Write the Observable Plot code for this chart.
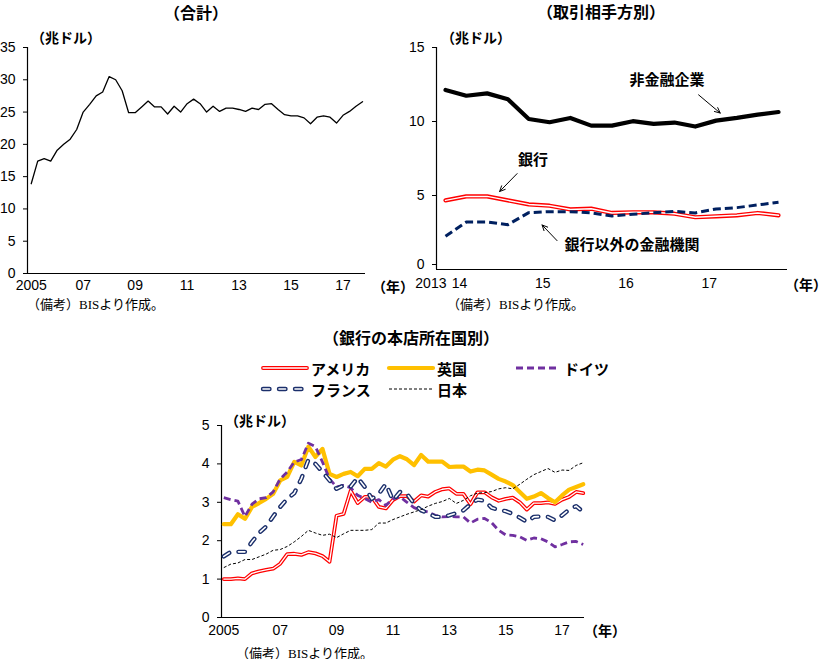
<!DOCTYPE html>
<html>
<head>
<meta charset="utf-8">
<script src="https://cdn.jsdelivr.net/npm/d3@7"></script>
<script src="https://cdn.jsdelivr.net/npm/@observablehq/plot@0.6"></script>
<style>
  html, body { margin: 0; padding: 0; background: #fff; }
  #chart { position: relative; width: 827px; height: 659px; overflow: hidden; background: #fff; color: #000; }
  .t { position: absolute; white-space: nowrap; line-height: 1; color: #000; }
</style>
</head>
<body>
<div id="chart"></div>
<script>
// ---- Data (trillion US dollars, quarterly) ----

// Total, 2005Q1–2017Q4
const totalStart = 2005;
const totalValues = [13.9, 17.4, 17.8, 17.4, 19.1, 20.0, 20.8, 22.3, 25.0, 26.2,
  27.5, 28.1, 30.5, 30.0, 28.3, 24.9, 24.9, 25.8, 26.7, 25.8,
  25.8, 24.7, 25.9, 25.0, 26.3, 27.0, 26.3, 25.0, 25.9, 25.1,
  25.6, 25.6, 25.4, 25.1, 25.6, 25.4, 26.2, 26.3, 25.4, 24.6,
  24.4, 24.4, 24.1, 23.2, 24.2, 24.4, 24.2, 23.3, 24.5, 25.1,
  25.9, 26.6];

// By counterparty, 2013Q4–2017Q4
const counterpartyStart = 2013.75;
const nonFinancialCorp = [12.13, 11.74, 11.90, 11.50, 10.17, 9.95, 10.24, 9.72, 9.72,
  10.02, 9.84, 9.93, 9.66, 10.06, 10.24, 10.46, 10.64];
const banks = [4.67, 4.94, 4.94, 4.67, 4.40, 4.31, 4.06, 4.11, 3.82,
  3.86, 3.86, 3.77, 3.53, 3.59, 3.66, 3.82, 3.66];
const nonBankFinancial = [2.25, 3.21, 3.21, 3.03, 3.84, 3.91, 3.91, 3.82, 3.62,
  3.73, 3.84, 3.93, 3.82, 4.09, 4.18, 4.36, 4.54];

// By bank nationality, 2005Q1–2017Q4
const nationalityStart = 2005;
const usa = [1.0, 1.0, 1.02, 1.0, 1.15, 1.2, 1.24, 1.27, 1.4, 1.65,
  1.66, 1.63, 1.7, 1.67, 1.6, 1.45, 2.65, 2.7, 3.3, 2.98,
  3.14, 3.14, 2.88, 2.84, 3.06, 3.16, 3.16, 3.02, 3.18, 3.15,
  3.27, 3.34, 3.36, 3.22, 3.22, 2.95, 3.26, 3.26, 3.13, 3.04,
  3.09, 3.12, 3.0, 2.81, 2.98, 2.98, 3.0, 2.96, 3.07, 3.14,
  3.27, 3.24];
const uk = [2.43, 2.43, 2.69, 2.57, 2.88, 2.98, 3.09, 3.22, 3.57, 3.66,
  4.05, 3.96, 4.45, 4.18, 4.39, 3.74, 3.66, 3.74, 3.79, 3.68,
  3.87, 3.87, 4.02, 3.93, 4.11, 4.2, 4.12, 3.97, 4.23, 4.06,
  4.06, 4.06, 3.92, 3.93, 3.93, 3.8, 3.85, 3.83, 3.72, 3.61,
  3.54, 3.45, 3.27, 3.09, 3.15, 3.24, 3.11, 3.0, 3.18, 3.33,
  3.4, 3.47];
const germany = [3.12, 3.07, 3.03, 2.63, 2.95, 3.09, 3.12, 3.27, 3.61, 3.79,
  4.05, 4.11, 4.54, 4.45, 4.05, 3.61, 3.4, 3.44, 3.38, 3.18,
  3.1, 3.0, 3.07, 2.92, 3.09, 3.14, 3.0, 2.86, 2.79, 2.75,
  2.66, 2.62, 2.63, 2.62, 2.62, 2.46, 2.56, 2.58, 2.47, 2.27,
  2.15, 2.14, 2.1, 2.01, 2.07, 2.05, 1.97, 1.84, 1.9, 1.97,
  1.98, 1.9];
const france = [1.59, 1.71, 1.71, 1.71, 1.97, 2.2, 2.37, 2.63, 2.88, 3.09,
  3.24, 3.61, 4.11, 4.0, 3.79, 3.57, 3.35, 3.44, 3.41, 3.64,
  3.4, 3.09, 3.22, 3.48, 3.05, 3.27, 3.22, 2.96, 2.79, 2.72,
  2.62, 2.62, 2.66, 2.72, 2.79, 2.95, 3.07, 3.04, 2.86, 2.8,
  2.77, 2.7, 2.6, 2.49, 2.62, 2.63, 2.62, 2.53, 2.66, 2.81,
  2.9, 2.75];
const japan = [1.3, 1.39, 1.42, 1.51, 1.51, 1.58, 1.65, 1.75, 1.77, 1.85,
  1.97, 2.11, 2.27, 2.2, 2.14, 2.17, 2.08, 2.18, 2.27, 2.27,
  2.27, 2.29, 2.46, 2.46, 2.55, 2.62, 2.69, 2.75, 2.81, 2.9,
  2.97, 3.02, 3.1, 2.97, 3.05, 3.17, 3.24, 3.25, 3.28, 3.35,
  3.38, 3.35, 3.47, 3.6, 3.72, 3.8, 3.88, 3.78, 3.84, 3.83,
  3.96, 4.03];

// Axis ticks and labels
const yTicksTotal = [0, 5, 10, 15, 20, 25, 30, 35];
const yTicksCounterparty = [5, 10, 15];
const yTicksCounterpartyBase = [0];
const yTicksNationality = [0, 1, 2, 3, 4, 5];
const xTicksLong = [2005, 2007, 2009, 2011, 2013, 2015, 2017];
const xLabelsLong = ["2005", "07", "09", "11", "13", "15", "17"];
const xTicksShort = [2013.75, 2014, 2015, 2016, 2017];
const xLabelsShort = ["2013", "14", "15", "16", "17"];

// Annotations on the counterparty panel
const counterpartyNotes = [
  {label: "非金融企業", year: 2016.41, value: 12.8},
  {label: "銀行", year: 2014.80, value: 7.39},
  {label: "銀行以外の金融機関", year: 2015.99, value: 1.62}
];
const counterpartyPointers = [
  {x1: 2016.79, y1: 11.8, x2: 2017.05, y2: 10.57},
  {x1: 2014.61, y1: 6.48, x2: 2014.40, y2: 5.27},
  {x1: 2015.09, y1: 1.95, x2: 2014.91, y2: 3.01}
];

// ---- Helpers ----
const JP = '"Noto Sans CJK JP", "Noto Sans", sans-serif';
const NUM = '"Liberation Sans", Arial, sans-serif';
const SERIF = '"Liberation Serif", "Noto Sans CJK JP", serif';
const root = document.getElementById("chart");

const rows = (values, start) => values.map((v, i) => ({year: start + i / 4, value: v}));
const plain = d => String(d);

function addText(str, x, y, {size = 14, weight = "bold", family = JP, anchor = "start"} = {}) {
  const el = document.createElement("div");
  el.className = "t";
  el.textContent = str;
  el.style.top = y + "px";
  el.style.font = `${weight} ${size}px ${family}`;
  if (anchor === "end") {
    el.style.right = (827 - x) + "px";
    el.style.transform = "translate(0, -50%)";
  } else {
    el.style.left = x + "px";
    el.style.transform = `translate(${anchor === "middle" ? "-50%" : "0"}, -50%)`;
  }
  root.appendChild(el);
}

function place(svg, left, top) {
  svg.style.position = "absolute";
  svg.style.left = left + "px";
  svg.style.top = top + "px";
  root.appendChild(svg);
}

const baseStyle = {fontFamily: NUM, fontSize: "14px", color: "#000", background: "transparent", overflow: "visible"};
const NAVY = "#1b2f6b";

// ---- Panel 1: total ----
const xDomTotal = [2004.857, 2017.865];
const p1 = Plot.plot({
  width: 410, height: 300,
  marginLeft: 27, marginRight: 45, marginTop: 47, marginBottom: 27,
  style: baseStyle,
  x: {domain: xDomTotal, axis: null},
  y: {domain: [0, 35]},
  marks: [
    Plot.axisY({ticks: yTicksTotal, tickFormat: plain, tickSize: 4, tickPadding: 8, label: null, fontSize: 14}),
    Plot.ruleX([xDomTotal[0]], {stroke: "#000", strokeWidth: 1.2}),
    Plot.ruleY([0], {stroke: "#000", strokeWidth: 1.2}),
    Plot.line(rows(totalValues, totalStart), {x: "year", y: "value", stroke: "#000", strokeWidth: 1.3}),
    Plot.text(xTicksLong, {x: d => d, y: 0, text: (d, i) => xLabelsLong[i], dy: 12, fontSize: 14})
  ]
});
place(p1, 0, 0);

// ---- Panel 2: by counterparty ----
const xDomCp = [2013.642, 2017.858];
const p2 = Plot.plot({
  width: 417, height: 300,
  marginLeft: 26, marginRight: 40, marginTop: 47, marginBottom: 31,
  style: baseStyle,
  x: {domain: xDomCp, axis: null},
  y: {domain: [0, 15]},
  marks: [
    Plot.axisY({ticks: yTicksCounterparty, tickFormat: plain, tickSize: 4, tickPadding: 8, label: null, fontSize: 14}),
    Plot.axisY({ticks: yTicksCounterpartyBase, tickFormat: plain, tickSize: 4, tickPadding: 8, label: null, fontSize: 14, dy: -5}),
    Plot.ruleX([xDomCp[0]], {stroke: "#000", strokeWidth: 1.2}),
    Plot.ruleY([0], {stroke: "#000", strokeWidth: 1.2}),
    Plot.line(rows(nonFinancialCorp, counterpartyStart), {x: "year", y: "value", stroke: "#000", strokeWidth: 4.2}),
    Plot.line(rows(banks, counterpartyStart), {x: "year", y: "value", stroke: "#ff0000", strokeWidth: 4.2}),
    Plot.line(rows(banks, counterpartyStart), {x: "year", y: "value", stroke: "#fff", strokeWidth: 1.5}),
    Plot.line(rows(nonBankFinancial, counterpartyStart), {x: "year", y: "value", stroke: "#002060", strokeWidth: 3, strokeDasharray: "8,4", strokeLinecap: "butt"}),
    Plot.text(counterpartyNotes, {x: "year", y: "value", text: "label", fontFamily: JP, fontSize: 15, fontWeight: "bold"}),
    Plot.arrow(counterpartyPointers, {x1: "x1", y1: "y1", x2: "x2", y2: "y2", stroke: "#000", strokeWidth: 1, headLength: 9, headAngle: 50}),
    Plot.text(xTicksShort, {x: d => d, y: 0, text: (d, i) => xLabelsShort[i], dy: 14, dx: 1, textAnchor: "end", fontSize: 14})
  ]
});
place(p2, 410, 0);

// ---- Panel 3: by bank nationality ----
const xDomNat = [2004.918, 2017.796];
const line3 = (values, opts) => Plot.line(rows(values, nationalityStart), {x: "year", y: "value", ...opts});
const p3 = Plot.plot({
  width: 420, height: 250,
  marginLeft: 31, marginRight: 26, marginTop: 25, marginBottom: 33,
  style: baseStyle,
  x: {domain: xDomNat, axis: null},
  y: {domain: [0, 5]},
  marks: [
    Plot.axisY({ticks: yTicksNationality, tickFormat: plain, tickSize: 4, tickPadding: 8, label: null, fontSize: 14}),
    Plot.ruleX([xDomNat[0]], {stroke: "#000", strokeWidth: 1.2}),
    Plot.ruleY([0], {stroke: "#000", strokeWidth: 1.2}),
    line3(usa, {stroke: "#ff0000", strokeWidth: 3.8}),
    line3(usa, {stroke: "#fff", strokeWidth: 1.3}),
    line3(uk, {stroke: "#ffc000", strokeWidth: 4.2}),
    line3(germany, {stroke: "#7030a0", strokeWidth: 2.8, strokeDasharray: "7,4", strokeLinecap: "butt"}),
    line3(france, {stroke: NAVY, strokeWidth: 4.4, strokeDasharray: "6.5,9.5", strokeLinecap: "round"}),
    line3(france, {stroke: "#fff", strokeWidth: 1.6, strokeDasharray: "6.5,9.5", strokeLinecap: "round"}),
    line3(japan, {stroke: "#000", strokeWidth: 1, strokeDasharray: "3,2", strokeLinecap: "butt"}),
    Plot.text(xTicksLong, {x: d => d, y: 0, text: (d, i) => xLabelsLong[i], dy: 13, fontSize: 14})
  ]
});
place(p3, 190, 400);

// ---- Titles, units, notes ----
addText("（合計）", 196, 12, {size: 16, anchor: "middle"});
addText("（取引相手方別）", 601, 11, {size: 16, anchor: "middle"});
addText("（銀行の本店所在国別）", 411, 337, {size: 16, anchor: "middle"});

addText("（兆ドル）", 31, 37, {size: 14});
addText("（兆ドル）", 441, 37, {size: 14});
addText("（兆ドル）", 225, 420, {size: 14});

addText("（年）", 372, 286, {size: 14});
addText("（年）", 827, 284, {size: 14, anchor: "end"});
addText("（年）", 584, 630, {size: 14});

addText("（備考）BISより作成。", 27, 303, {size: 13, weight: "normal", family: SERIF});
addText("（備考）BISより作成。", 447, 303, {size: 13, weight: "normal", family: SERIF});
addText("（備考）BISより作成。", 236, 652, {size: 13, weight: "normal", family: SERIF});

// ---- Legend for the nationality panel ----
const NS = "http://www.w3.org/2000/svg";
function legendKey(x, y, layers) {
  const svg = document.createElementNS(NS, "svg");
  svg.setAttribute("width", 50);
  svg.setAttribute("height", 12);
  svg.style.position = "absolute";
  svg.style.left = x + "px";
  svg.style.top = (y - 6) + "px";
  for (const l of layers) {
    const ln = document.createElementNS(NS, "line");
    ln.setAttribute("x1", 3); ln.setAttribute("x2", 47);
    ln.setAttribute("y1", 6); ln.setAttribute("y2", 6);
    ln.setAttribute("stroke", l.stroke);
    ln.setAttribute("stroke-width", l.width);
    if (l.dash) ln.setAttribute("stroke-dasharray", l.dash);
    ln.setAttribute("stroke-linecap", l.cap || "round");
    svg.appendChild(ln);
  }
  root.appendChild(svg);
}
const legendItems = [
  {name: "アメリカ", x: 260, y: 368, layers: [{stroke: "#ff0000", width: 3.8}, {stroke: "#fff", width: 1.3}]},
  {name: "英国", x: 386, y: 368, layers: [{stroke: "#ffc000", width: 4.2}]},
  {name: "ドイツ", x: 513, y: 368, layers: [{stroke: "#7030a0", width: 2.8, dash: "7,4", cap: "butt"}]},
  {name: "フランス", x: 260, y: 389, layers: [{stroke: NAVY, width: 4.4, dash: "6.5,9.5"}, {stroke: "#fff", width: 1.6, dash: "6.5,9.5"}]},
  {name: "日本", x: 386, y: 389, layers: [{stroke: "#000", width: 1, dash: "3,2", cap: "butt"}]}
];
for (const item of legendItems) {
  legendKey(item.x, item.y, item.layers);
  addText(item.name, item.x + 51, item.y, {size: 15});
}
</script>
</body>
</html>
